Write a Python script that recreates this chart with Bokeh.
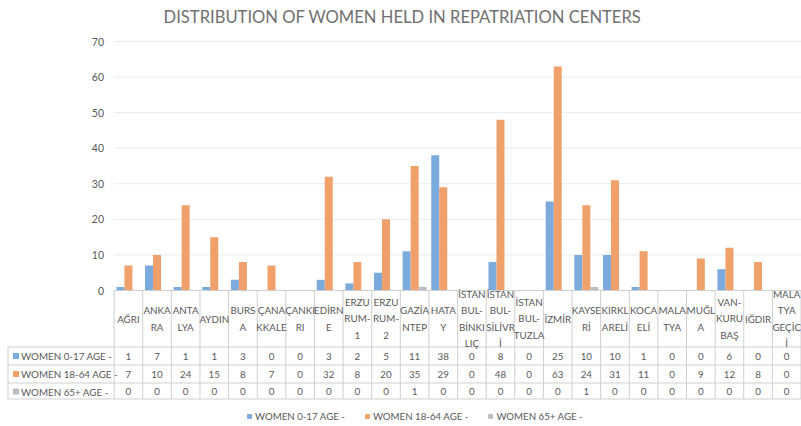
from bokeh.plotting import figure
from bokeh.models import Range1d, Legend, LegendItem, ColumnDataSource
from bokeh.core.properties import value
from bokeh.embed import file_html
from bokeh.resources import INLINE

# ---------------- data ----------------
title_text = "DISTRIBUTION OF WOMEN HELD IN REPATRIATION CENTERS"
categories = [
    "AĞRI", "ANKA\nRA", "ANTA\nLYA", "AYDIN", "BURS\nA", "ÇANA\nKKALE",
    "ÇANKI\nRI", "EDİRN\nE", "ERZU\nRUM-\n1", "ERZU\nRUM-\n2", "GAZİA\nNTEP",
    "HATA\nY", "İSTAN\nBUL-\nBİNKI\nLIÇ", "İSTAN\nBUL-\nSİLİVR\nİ",
    "İSTAN\nBUL-\nTUZLA", "İZMİR", "KAYSE\nRİ", "KIRKL\nARELİ", "KOCA\nELİ",
    "MALA\nTYA", "MUĞL\nA", "VAN-\nKURU\nBAŞ", "IĞDIR", "MALA\nTYA\nGEÇİC\nİ",
]
series_names = ["WOMEN 0-17 AGE -", "WOMEN 18-64 AGE -", "WOMEN 65+ AGE -"]
women_0_17 = [1, 7, 1, 1, 3, 0, 0, 3, 2, 5, 11, 38, 0, 8, 0, 25, 10, 10, 1, 0, 0, 6, 0, 0]
women_18_64 = [7, 10, 24, 15, 8, 7, 0, 32, 8, 20, 35, 29, 0, 48, 0, 63, 24, 31, 11, 0, 9, 12, 8, 0]
women_65_plus = [0, 0, 0, 0, 0, 0, 0, 0, 0, 0, 1, 0, 0, 0, 0, 0, 1, 0, 0, 0, 0, 0, 0, 0]
y_ticks = [0, 10, 20, 30, 40, 50, 60, 70]

series_values = [women_0_17, women_18_64, women_65_plus]
colors = ["#7BAADC", "#F0A06A", "#BDBDBD"]

# ---------------- layout helpers (page pixels -> data units) ----------------
W, H = 801, 426
N = len(categories)
X0 = 113.6                       # page x of first category boundary
CW = (800.5 - X0) / N            # category width in px
Y0 = 290.0                       # page y of value 0
K = 70.0 / (290.0 - 41.0)        # value units per px

def X(px):
    return (px - X0) / CW

def Y(py):
    return (Y0 - py) * K

FONT = value("Lato")
TXT = "#595959"
LINE = "#CFCFCF"
FS = "9.8px"

p = figure(width=W, height=H, output_backend="svg", toolbar_location=None,
           x_range=Range1d(X(0), X(W)), y_range=Range1d(Y(H), Y(0)),
           min_border=0, x_axis_location=None, y_axis_location=None,
           outline_line_color=None)
p.xgrid.visible = False
p.ygrid.visible = False

# horizontal gridlines at the value ticks
p.multi_line(xs=[[0.0, float(N)] for t in y_ticks[1:]],
             ys=[[t, t] for t in y_ticks[1:]], line_color="#EBEBEB", line_width=1)

# title
p.text(x=[X(402)], y=[Y(16.5)], text=[title_text], text_font=FONT,
       text_font_size="16.6px", text_color="#707070", text_align="center",
       text_baseline="middle")

# y tick labels
p.text(x=[X(103.5)] * len(y_ticks), y=y_ticks, text=[str(t) for t in y_ticks],
       text_font=FONT, text_font_size="10.5px", text_color=TXT,
       text_align="right", text_baseline="middle")

# bars
bw = 8.0 / CW
offsets = [-bw, 0.0, bw]
renderers = []
for vals, off, col in zip(series_values, offsets, colors):
    src = ColumnDataSource(dict(x=[i + 0.5 + off for i in range(N)], top=vals))
    r = p.vbar(x="x", top="top", width=bw, bottom=0, source=src,
               fill_color=col, line_color=None)
    renderers.append(r)

# table grid lines
xl = X(7.5)
xr = float(N)
hy = [346.5, 364.5, 382.5, 398.5]
xs = [[0.0, xr]]
ys = [[0.0, 0.0]]
for v in hy:
    xs.append([xl, xr])
    ys.append([Y(v), Y(v)])
for i in range(N + 1):
    xs.append([float(i), float(i)])
    ys.append([0.0, Y(398.5)])
xs.append([xl, xl])
ys.append([Y(346.5), Y(398.5)])
p.multi_line(xs=xs, ys=ys, line_color=LINE, line_width=1)

# header (category) texts
p.text(x=[i + 0.5 for i in range(N)], y=[Y(318)] * N, text=categories,
       text_font=FONT, text_font_size=FS, text_color=TXT,
       text_align="center", text_baseline="middle", text_line_height=1.35)

# data rows
row_y = [355.5, 373.5, 391.0]
for ry, vals, name, col in zip(row_y, series_values, series_names, colors):
    p.text(x=[i + 0.5 for i in range(N)], y=[Y(ry)] * N, text=[str(v) for v in vals],
           text_font=FONT, text_font_size=FS, text_color=TXT,
           text_align="center", text_baseline="middle")
    p.scatter(x=[X(15.5)], y=[Y(ry)], marker="square", size=6,
              fill_color=col, line_color=None)
    p.text(x=[X(20.5)], y=[Y(ry)], text=[name], text_font=FONT,
           text_font_size=FS, text_color=TXT, text_align="left",
           text_baseline="middle")

# legend
legend = Legend(items=[LegendItem(label=n, renderers=[r]) for n, r in zip(series_names, renderers)],
                orientation="horizontal", location=(246, 4), padding=0, margin=0,
                spacing=19, glyph_width=6, glyph_height=6, label_standoff=3,
                label_height=12, label_text_font="Lato", label_text_font_size="9.7px",
                label_text_color=TXT, border_line_alpha=0, background_fill_alpha=0)
p.add_layout(legend, "center")

open("out.html", "w").write(file_html(p, INLINE))
